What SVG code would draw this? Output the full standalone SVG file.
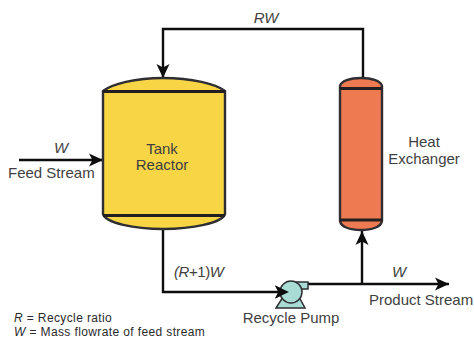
<svg xmlns="http://www.w3.org/2000/svg" width="474" height="338" viewBox="0 0 474 338">
<style>
text{font-family:"Liberation Sans",Arial,sans-serif;font-size:15px;fill:#3f3f41}
.i{font-style:italic}
.s{font-size:12px;letter-spacing:.38px;fill:#2a2a2c}
.c{text-anchor:middle}
.v{stroke:#2f2f33;stroke-width:2.4}
.b{stroke:#231f20;stroke-width:3;fill:none}
.l{fill:none;stroke:#0d0d0d;stroke-width:2.4}
</style>
<defs>
<marker id="a" markerUnits="userSpaceOnUse" markerWidth="16" markerHeight="14" refX="14" refY="7" orient="auto"><path d="M0 0.500L14 7L0 13.500L3.500 7Z" fill="#0d0d0d"/></marker>
</defs>
<rect width="474" height="338" fill="#fff"/>
<g id="connectors">
<path class="l" d="M363 78V29H163V78" marker-end="url(#a)"/>
<path class="l" d="M19 160H103" marker-end="url(#a)"/>
<path class="l" d="M163 229V292H289" marker-end="url(#a)"/>
<path class="l" d="M306 284H449" marker-end="url(#a)"/>
<path class="l" d="M362 284V231" marker-end="url(#a)"/>
</g>
<g id="tank-reactor">
<path class="v" fill="#f8d544" d="M103 91C112 84 135 78 163 78C192 78 216 84 225 91V214C222 223 192 229 163 229C134 229 106 223 103 214Z"/>
<path class="b" d="M103 91.500H225M103 215.500H225"/>
<text class="c" x="162" y="154">Tank</text>
<text class="c" x="162" y="170">Reactor</text>
</g>
<g id="heat-exchanger">
<path class="v" fill="#ee7a52" d="M340 86C341 81 350 78 361 78C372 78 381 81 382 86V221C381 227 372 230 361 230C350 230 341 227 340 221Z"/>
<path class="b" d="M340 88.500H382M340 220H382"/>
<text class="c" x="424" y="147">Heat</text>
<text class="c" x="424" y="164">Exchanger</text>
</g>
<g id="recycle-pump">
<path d="M276 308L283 297H299L305 308Z" fill="#aadcd6" stroke="#2f2f33" stroke-width="1.500"/>
<path d="M296 282H308V289H296Z" fill="#aadcd6" stroke="#2f2f33" stroke-width="1.500"/>
<circle cx="291" cy="292" r="11" fill="#aadcd6" stroke="#2f2f33" stroke-width="1.500"/>
<path d="M275 285.500L289 292L275 298.500L278.500 292Z" fill="#0d0d0d"/>
<text class="c" x="291" y="323">Recycle Pump</text>
</g>
<g id="labels">
<text class="i c" x="266" y="23">RW</text>
<text class="i c" x="61" y="153">W</text>
<text x="8" y="178">Feed Stream</text>
<text x="174" y="277" textLength="50"><tspan class="i">(R</tspan>+1)<tspan class="i">W</tspan></text>
<text class="i c" x="399" y="277">W</text>
<text x="369" y="305">Product Stream</text>
<text class="s" x="14" y="321.500"><tspan class="i">R</tspan> = Recycle ratio</text>
<text class="s" x="14" y="335.500"><tspan class="i">W</tspan> = Mass flowrate of feed stream</text>
</g>
</svg>
